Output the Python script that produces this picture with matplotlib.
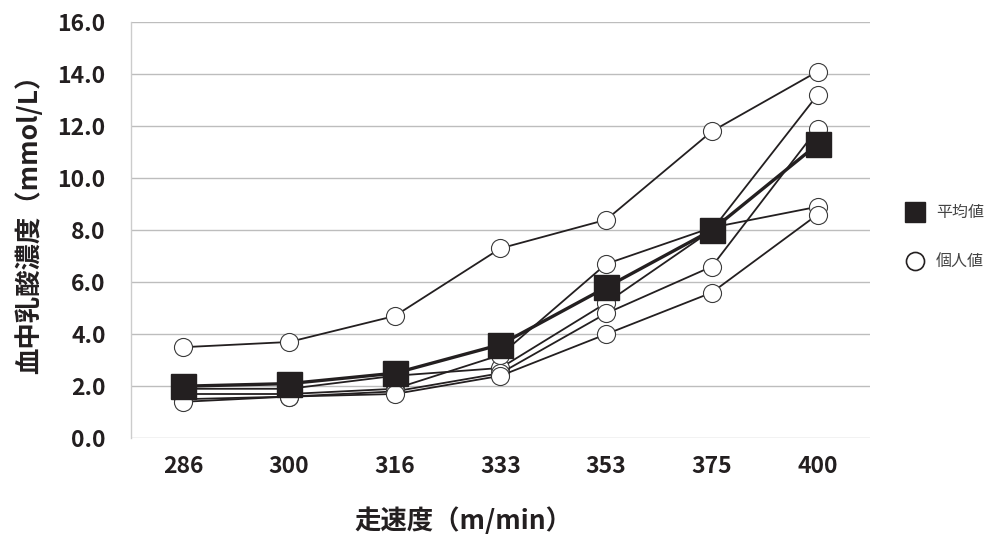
import matplotlib.pyplot as plt
from matplotlib.lines import Line2D

plt.rcParams['font.family'] = ['Noto Sans CJK JP', 'DejaVu Sans']

speeds = ["286", "300", "316", "333", "353", "375", "400"]

# individual runners (blood lactate, mmol/L)
runner_a = [3.5, 3.7, 4.7, 7.3, 8.4, 11.8, 14.1]
runner_b = [1.9, 1.9, 2.4, 2.7, 5.2, 8.0, 13.2]
runner_c = [1.7, 1.7, 1.9, 3.2, 6.7, 8.1, 8.9]
runner_d = [1.5, 1.6, 1.8, 2.5, 4.8, 6.6, 11.9]
runner_e = [1.4, 1.6, 1.7, 2.4, 4.0, 5.6, 8.6]
mean_values = [2.0, 2.1, 2.5, 3.6, 5.8, 8.0, 11.3]

y_ticks = [0, 2, 4, 6, 8, 10, 12, 14, 16]

ink = "#231f20"

fig = plt.figure(figsize=(9.97, 5.39), dpi=100)
ax = fig.add_axes([0.131, 0.187, 0.742, 0.772])

x = list(range(len(speeds)))
for runner in [runner_a, runner_b, runner_c, runner_d, runner_e]:
    ax.plot(x, runner, color=ink, linewidth=1.3, marker="o", markersize=13,
            markerfacecolor="white", markeredgecolor="#3a3a3a",
            markeredgewidth=0.8, zorder=3)

ax.plot(x, mean_values, color=ink, linewidth=2.4, marker="s", markersize=18,
        markerfacecolor=ink, markeredgecolor=ink, zorder=4)

ax.set_xlim(-0.5, 6.5)
ax.set_ylim(0, 16)
ax.set_xticks(x)
ax.set_xticklabels(speeds)
ax.set_yticks(y_ticks)
ax.set_yticklabels([f"{v:.1f}" for v in y_ticks])
ax.tick_params(length=0, labelsize=16.5, colors=ink)
ax.tick_params(axis="y", pad=18)
ax.tick_params(axis="x", pad=12)
for lbl in ax.get_xticklabels() + ax.get_yticklabels():
    lbl.set_fontweight("bold")

ax.grid(axis="y", color="#bdbdbd", linewidth=1.0, zorder=0)
ax.set_axisbelow(True)
for side in ["top", "right", "bottom"]:
    ax.spines[side].set_visible(False)
ax.spines["left"].set_color("#cccccc")
ax.spines["left"].set_linewidth(1.0)

ax.set_xlabel("走速度（m/min）", fontsize=19, fontweight="bold", color=ink,
              labelpad=21, x=0.45)
ax.set_ylabel("血中乳酸濃度（mmol/L）", fontsize=19, fontweight="bold", color=ink,
              labelpad=10, y=0.53)

handles = [
    Line2D([], [], linestyle="none", marker="s", markersize=14,
           markerfacecolor=ink, markeredgecolor=ink),
    Line2D([], [], linestyle="none", marker="o", markersize=13,
           markerfacecolor="white", markeredgecolor=ink, markeredgewidth=1.2),
]
fig.legend(handles, ["平均値", "個人値"], loc="center left",
           bbox_to_anchor=(0.894, 0.56), frameon=False, fontsize=11.5,
           labelspacing=2.0, handletextpad=0.7, handlelength=1.2,
           labelcolor="#444444")

fig.savefig("out.png", dpi=100)
